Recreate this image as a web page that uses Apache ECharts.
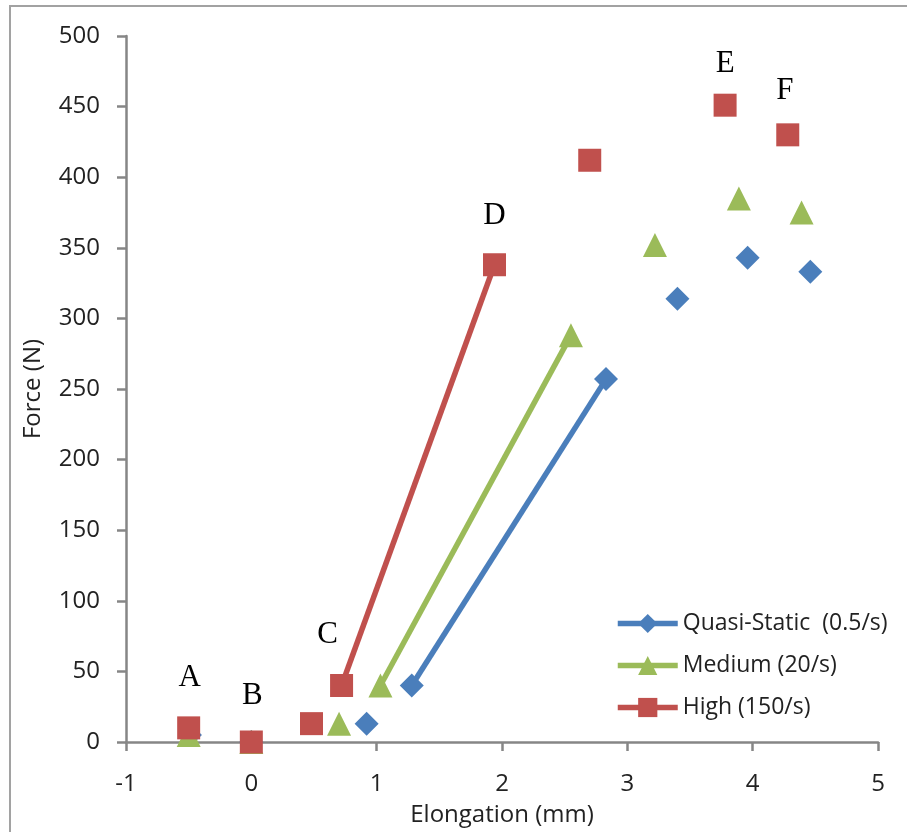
<!DOCTYPE html>
<html>
<head>
<meta charset="utf-8">
<title>Force vs Elongation</title>
<script src="https://cdn.jsdelivr.net/npm/echarts@6/dist/echarts.min.js"></script>
<style>
  html, body { margin: 0; padding: 0; background: #ffffff; }
  #chart { width: 907px; height: 832px; }
</style>
</head>
<body>
<div id="chart"></div>
<script>
// Elongation (mm) and force (N) for each strain rate
const quasiX  = [-0.49, 0, 0.92, 1.28, 2.83, 3.40, 3.96, 4.46];
const quasiY  = [5, 0, 13, 40, 257, 314, 343, 333];
const mediumX = [-0.5, 0, 0.70, 1.03, 2.55, 3.22, 3.89, 4.39];
const mediumY = [5, 0, 13, 40, 288, 352, 385, 375];
const highX   = [-0.5, 0, 0.48, 0.72, 1.94, 2.70, 3.78, 4.28];
const highY   = [10, 0, 13, 40, 338, 412, 451, 430];

// Only the linear region (point C to point D) is joined by a line
const segment = [3, 4];

// Stage letters attached to the high-rate points
const highTags = ['A', 'B', '', 'C', 'D', '', 'E', 'F'];

const seriesNames = ['Quasi-Static  (0.5/s)', 'Medium (20/s)', 'High (150/s)'];
const xTicks = { min: -1, max: 5, step: 1 };
const yTicks = { min: 0, max: 500, step: 50 };

// Label offsets in pixels relative to the marker centre
const tagOffsets = {
  A: [1, -50], B: [1, -46], C: [-14, -51], D: [0, -49], E: [0, -41], F: [-3, -44]
};

function buildData(xs, ys, tags) {
  const out = [];
  for (let i = 0; i < xs.length; i++) {
    const item = { value: [xs[i], ys[i]] };
    if (tags && tags[i]) {
      item.label = {
        show: true,
        position: 'inside',
        formatter: tags[i],
        offset: tagOffsets[tags[i]],
        fontFamily: 'Liberation Serif',
        fontSize: 31,
        color: '#000000'
      };
    }
    out.push(item);
    const joined = i === segment[0] && i + 1 === segment[1];
    if (i < xs.length - 1 && !joined) {
      out.push({ value: ['-', '-'] });  // break the line between unjoined points
    }
  }
  return out;
}

const colors = ['#4A7EBB', '#9BBB59', '#C0504D'];
const symbols = ['diamond', 'triangle', 'rect'];
const sizes = [24, 24, 23];
const xsAll = [quasiX, mediumX, highX];
const ysAll = [quasiY, mediumY, highY];
const tagsAll = [null, null, highTags];

const series = seriesNames.map((name, k) => ({
  name: name,
  type: 'line',
  data: buildData(xsAll[k], ysAll[k], tagsAll[k]),
  connectNulls: false,
  symbol: symbols[k],
  symbolSize: sizes[k],
  showAllSymbol: true,
  color: colors[k],
  lineStyle: { color: colors[k], width: 5.5 },
  itemStyle: { color: colors[k] },
  emphasis: { disabled: true },
  z: 2 + k
}));

const axisGrey = '#868686';
const sans = 'Open Sans';

const chart = echarts.init(document.getElementById('chart'));
chart.setOption({
  animation: false,
  backgroundColor: '#ffffff',
  grid: { left: 126, right: 29, top: 36, bottom: 90, containLabel: false },
  graphic: [{
    type: 'rect',
    shape: { x: 10, y: 6, width: 1000, height: 1000 },
    style: { fill: 'none', stroke: '#a2a2a2', lineWidth: 2 },
    silent: true
  }],
  legend: {
    orient: 'vertical',
    left: 610,
    top: 607,
    itemWidth: 60,
    itemHeight: 24,
    itemGap: 19,
    lineStyle: { width: 5.5 },
    textStyle: { fontFamily: sans, fontSize: 23, color: '#222222' },
    data: seriesNames
  },
  xAxis: {
    type: 'value',
    min: xTicks.min, max: xTicks.max, interval: xTicks.step,
    name: 'Elongation (mm)',
    nameLocation: 'middle',
    nameGap: 61,
    nameTextStyle: { fontFamily: sans, fontSize: 24, color: '#222222' },
    axisLine: { onZero: false, lineStyle: { color: axisGrey, width: 2.5 } },
    axisTick: { show: true, length: 9, inside: false, lineStyle: { color: axisGrey, width: 2.5 } },
    axisLabel: { margin: 30, fontFamily: sans, fontSize: 24, color: '#222222' },
    splitLine: { show: false }
  },
  yAxis: {
    type: 'value',
    min: yTicks.min, max: yTicks.max, interval: yTicks.step,
    name: 'Force (N)',
    nameLocation: 'middle',
    nameGap: 81,
    nameTextStyle: { fontFamily: sans, fontSize: 24, color: '#222222' },
    axisLine: { show: true, onZero: false, lineStyle: { color: axisGrey, width: 2.5 } },
    axisTick: { show: true, length: 9, inside: false, lineStyle: { color: axisGrey, width: 2.5 } },
    axisLabel: { margin: 26, fontFamily: sans, fontSize: 24, color: '#222222' },
    splitLine: { show: false }
  },
  series: series
});
</script>
</body>
</html>
